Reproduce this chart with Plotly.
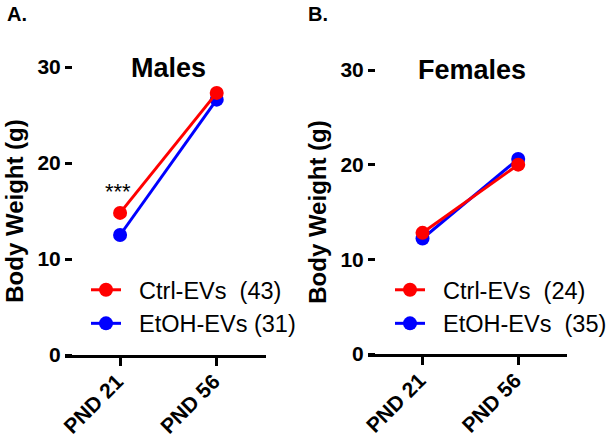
import plotly.graph_objects as go

# ---- data ----
timepoints = ["PND 21", "PND 56"]
male_ctrl = [14.8, 27.3]
male_etoh = [12.5, 26.6]
female_ctrl = [12.8, 20.0]
female_etoh = [12.2, 20.6]
NB = "\u00a0"
male_labels = [NB * 2 + "Ctrl-EVs" + NB * 2 + "(43)", NB * 2 + "EtOH-EVs (31)"]
female_labels = [NB * 2 + "Ctrl-EVs" + NB * 2 + "(24)", NB * 2 + "EtOH-EVs" + NB * 2 + "(35)"]
y_ticks = [0, 10, 20, 30]

RED = "#FF0000"
BLUE = "#0000FF"
FONT = "Arial, Liberation Sans, sans-serif"
W, H = 609, 437

xpos = list(range(len(timepoints)))

fig = go.Figure()

def add_pair(xa, ya, ctrl, etoh, labels, legend):
    # blue first so red sits on top
    fig.add_trace(go.Scatter(x=xpos, y=etoh, name=labels[1], mode="lines+markers",
                             line=dict(color=BLUE, width=3), marker=dict(color=BLUE, size=14),
                             xaxis=xa, yaxis=ya, legend=legend, legendgroup=legend + "b",
                             cliponaxis=False))
    fig.add_trace(go.Scatter(x=xpos, y=ctrl, name=labels[0], mode="lines+markers",
                             line=dict(color=RED, width=3), marker=dict(color=RED, size=14),
                             xaxis=xa, yaxis=ya, legend=legend, legendgroup=legend + "a",
                             cliponaxis=False))

add_pair("x", "y", male_ctrl, male_etoh, male_labels, "legend")
add_pair("x2", "y2", female_ctrl, female_etoh, female_labels, "legend2")

def px_x(p):
    return p / W

def px_y(p):
    return 1 - p / H

xaxis_common = dict(
    tickmode="array", tickvals=xpos, ticktext=timepoints, tickangle=-45,
    range=[-0.57, 1.51], showgrid=False, zeroline=False, automargin=False,
    showline=True, linecolor="black", linewidth=3,
    ticks="outside", ticklen=8, tickwidth=3, tickcolor="black",
    ticklabelshift=-3, ticklabelstandoff=-5,
    tickfont=dict(family=FONT, size=21, color="black", weight="bold"),
)
yaxis_common = dict(
    range=[0, 30], tickmode="array", tickvals=y_ticks, showgrid=False, zeroline=False,
    showline=False, ticks="outside", ticklen=7, tickwidth=3, tickcolor="black", automargin=False,
    tickfont=dict(family=FONT, size=21, color="black", weight="bold"),
    title=dict(text="Body Weight (g)", font=dict(family=FONT, size=24, color="black", weight="bold"),
               standoff=6),
    anchor="free",
)

legend_common = dict(xanchor="left", yanchor="top", traceorder="reversed", tracegroupgap=15,
                     bgcolor="rgba(0,0,0,0)",
                     font=dict(family=FONT, size=23.5, color="black"))

fig.update_layout(
    width=W, height=H, margin=dict(l=0, r=0, t=0, b=0, autoexpand=False),
    plot_bgcolor="white", paper_bgcolor="white",
    xaxis=dict(domain=[px_x(65), px_x(266)], anchor="y", **xaxis_common),
    yaxis=dict(domain=[px_y(355), px_y(67)], position=px_x(72), **yaxis_common),
    xaxis2=dict(domain=[px_x(368), px_x(567)], anchor="y2", **xaxis_common),
    yaxis2=dict(domain=[px_y(354), px_y(70)], position=px_x(375), **yaxis_common),
    legend=dict(x=px_x(86), y=px_y(268), **legend_common),
    legend2=dict(x=px_x(390), y=px_y(268), **legend_common),
    showlegend=True,
)

annotations = [
    dict(text="A.", x=px_x(5), y=px_y(14), xref="paper", yref="paper", xanchor="left", yanchor="middle",
         showarrow=False, font=dict(family=FONT, size=20, color="black", weight="bold")),
    dict(text="B.", x=px_x(306), y=px_y(14), xref="paper", yref="paper", xanchor="left", yanchor="middle",
         showarrow=False, font=dict(family=FONT, size=20, color="black", weight="bold")),
    dict(text="Males", x=px_x(168), y=px_y(68), xref="paper", yref="paper", xanchor="center", yanchor="middle",
         showarrow=False, font=dict(family=FONT, size=27, color="black", weight="bold")),
    dict(text="Females", x=px_x(472), y=px_y(70), xref="paper", yref="paper", xanchor="center", yanchor="middle",
         showarrow=False, font=dict(family=FONT, size=27, color="black", weight="bold")),
    dict(text="***", x=-0.02, y=17.0, xref="x", yref="y", xanchor="center", yanchor="middle",
         showarrow=False, font=dict(family=FONT, size=22, color="black")),
]
fig.update_layout(annotations=annotations)

fig.write_html("out.html", config={"displayModeBar": False},
               post_script="document.body.style.margin='0';document.body.style.overflow='hidden';")
